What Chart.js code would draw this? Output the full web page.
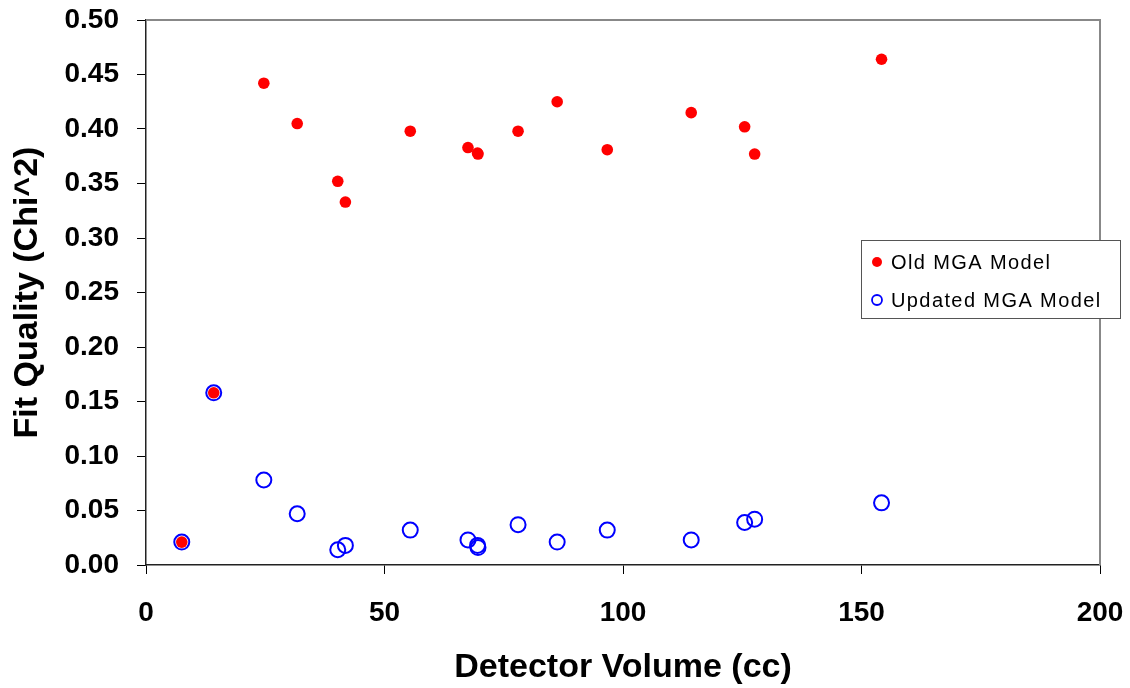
<!DOCTYPE html>
<html>
<head>
<meta charset="utf-8">
<title>Fit Quality vs Detector Volume</title>
<script src="https://cdn.jsdelivr.net/npm/chart.js@4.4.1/dist/chart.umd.min.js"></script>
<style>
  html, body { margin: 0; padding: 0; background: #fff; }
  #wrap { width: 1130px; height: 688px; }
</style>
</head>
<body>
<div id="wrap"><canvas id="fitChart" width="1130" height="688"></canvas></div>
<script>
// detector volumes (cc), one per measured detector
const volumes    = [7.5, 14.2, 24.7, 31.7, 40.2, 41.8, 55.4, 67.5, 69.5, 69.6, 78.0, 86.2, 96.7, 114.3, 125.5, 127.6, 154.2];
// chi^2 fit quality for each model
const oldModel     = [0.021, 0.158, 0.442, 0.405, 0.352, 0.333, 0.398, 0.383, 0.378, 0.377, 0.398, 0.425, 0.381, 0.415, 0.402, 0.377, 0.464];
const updatedModel = [0.021, 0.158, 0.078, 0.047, 0.014, 0.018, 0.032, 0.023, 0.018, 0.016, 0.037, 0.021, 0.032, 0.023, 0.039, 0.042, 0.057];
// axis ticks
const xTicks = [0, 50, 100, 150, 200];
const yTicks = [0, 0.05, 0.10, 0.15, 0.20, 0.25, 0.30, 0.35, 0.40, 0.45, 0.50];

const FONT = 'Arial, "Liberation Sans", sans-serif';

const toPoints = (ys) => volumes.map((v, i) => ({ x: v, y: ys[i] }));

// gray frame on top / right like the original plot area
const frame = {
  id: 'frame',
  beforeDatasetsDraw(chart) {
    const { ctx, chartArea: a } = chart;
    ctx.save();
    ctx.strokeStyle = '#888';
    ctx.lineWidth = 2;
    ctx.beginPath();
    ctx.moveTo(a.left, a.top);
    ctx.lineTo(a.right, a.top);
    ctx.lineTo(a.right, a.bottom);
    ctx.stroke();
    ctx.restore();
  }
};

// boxed legend sitting over the right edge of the plot
const boxLegend = {
  id: 'boxLegend',
  afterDraw(chart) {
    const { ctx, chartArea: a } = chart;
    const x = a.right - 239, y = a.top + 220, w = 259, h = 78;
    ctx.save();
    ctx.fillStyle = '#fff';
    ctx.fillRect(x, y, w, h);
    ctx.strokeStyle = '#555';
    ctx.lineWidth = 1;
    ctx.strokeRect(x + 0.5, y + 0.5, w, h);
    ctx.font = '20px ' + FONT;
    ctx.letterSpacing = '1.4px';
    ctx.textBaseline = 'middle';
    ctx.fillStyle = '#000';
    chart.data.datasets.forEach((ds, i) => {
      const cy = y + 22 + i * 38;
      ctx.beginPath();
      ctx.arc(x + 16, cy, 5, 0, Math.PI * 2);
      if (ds.legendFill) {
        ctx.fillStyle = ds.backgroundColor;
        ctx.fill();
      } else {
        ctx.strokeStyle = ds.borderColor;
        ctx.lineWidth = 1.8;
        ctx.stroke();
      }
      ctx.fillStyle = '#000';
      ctx.fillText(ds.label, x + 30, cy + 1);
    });
    ctx.restore();
  }
};

new Chart(document.getElementById('fitChart'), {
  type: 'scatter',
  data: {
    datasets: [
      {
        label: 'Old MGA Model',
        data: toPoints(oldModel),
        backgroundColor: '#ff0000',
        borderColor: '#ff0000',
        borderWidth: 0,
        pointRadius: 5.8,
        legendFill: true
      },
      {
        label: 'Updated MGA Model',
        data: toPoints(updatedModel),
        backgroundColor: 'rgba(0,0,0,0)',
        borderColor: '#0000ff',
        borderWidth: 2,
        pointRadius: 7.5,
        legendFill: false
      }
    ]
  },
  options: {
    responsive: false,
    animation: false,
    layout: { padding: { left: 0, top: 20, right: 30, bottom: 0 } },
    plugins: {
      legend: { display: false },
      tooltip: { enabled: false }
    },
    scales: {
      x: {
        type: 'linear',
        min: xTicks[0],
        max: xTicks[xTicks.length - 1],
        afterBuildTicks: (s) => { s.ticks = xTicks.map(v => ({ value: v })); },
        afterFit: (s) => { s.height = 123; s.paddingLeft = 0; s.paddingRight = 0; },
        grid: { drawOnChartArea: false, tickLength: 9, tickColor: '#000', tickWidth: 1 },
        border: { color: '#222', width: 1.5 },
        ticks: { color: '#000', padding: 22, font: { family: FONT, size: 28, weight: 'bold' } },
        title: {
          display: true,
          text: 'Detector Volume (cc)',
          color: '#000',
          padding: { top: 0, bottom: 0 },
          font: { family: FONT, size: 34, weight: 'bold' }
        }
      },
      y: {
        type: 'linear',
        min: yTicks[0],
        max: yTicks[yTicks.length - 1],
        afterBuildTicks: (s) => { s.ticks = yTicks.map(v => ({ value: v })); },
        afterFit: (s) => { s.width = 146; s.paddingTop = 0; s.paddingBottom = 0; },
        grid: { drawOnChartArea: false, tickLength: 9, tickColor: '#000', tickWidth: 1 },
        border: { color: '#222', width: 1.5 },
        ticks: {
          color: '#000',
          padding: 18,
          font: { family: FONT, size: 28, weight: 'bold' },
          callback: (v) => v.toFixed(2)
        },
        title: {
          display: true,
          text: 'Fit Quality (Chi^2)',
          color: '#000',
          padding: { top: 7, bottom: 0 },
          font: { family: FONT, size: 34, weight: 'bold' }
        }
      }
    }
  },
  plugins: [frame, boxLegend]
});
</script>
</body>
</html>
